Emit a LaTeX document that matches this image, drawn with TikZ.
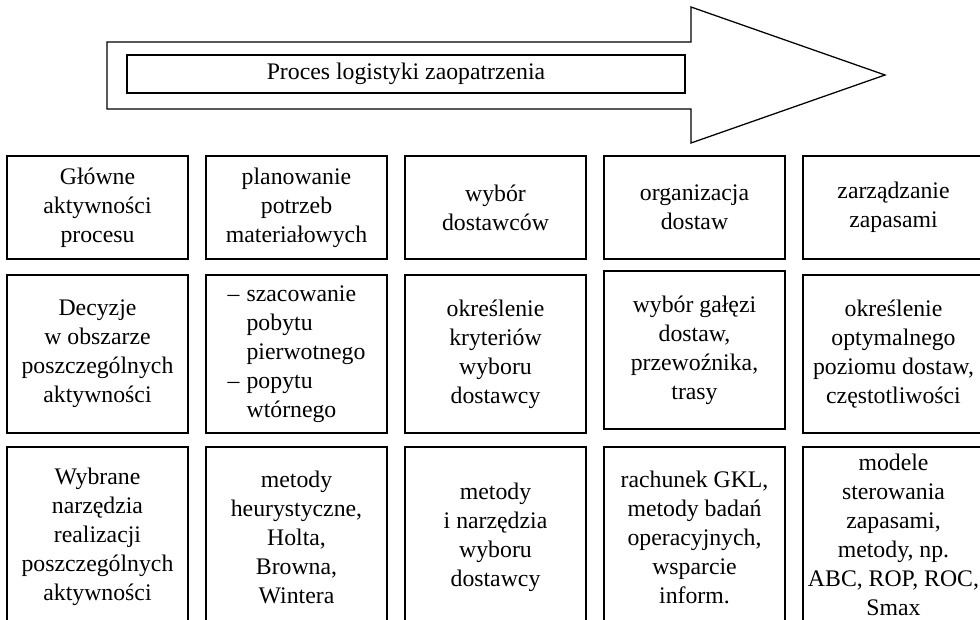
\documentclass[tikz,border=0pt]{standalone}
\usepackage{fontspec}
\setmainfont{Liberation Serif}
\usepackage{tikz}
\usetikzlibrary{positioning}

\begin{document}
\begin{tikzpicture}[x=0.025cm, y=-0.025cm,
  cell/.style={draw, line width=0.9pt, minimum width=4.525cm,
              inner sep=0pt, align=center,
              font=\fontsize{16.9}{20.6}\selectfont},
  headcell/.style={cell, minimum height=2.575cm},
  decicell/.style={cell, minimum height=3.95cm},
  toolcell/.style={cell, minimum height=4.5cm},
  bigarrow/.style={line width=0.9pt}
]
\useasboundingbox (0,0) rectangle (980,619);

% arrow of the process
\draw[bigarrow] (107,42) -- (691,42) -- (691,7) -- (885,75)
  -- (691,143) -- (691,109) -- (107,109) -- cycle;
\node[draw, line width=0.9pt, minimum width=13.95cm, minimum height=0.95cm,
      font=\fontsize{16.9}{20.6}\selectfont] (proces) at (406,74)
  {Proces logistyki zaopatrzenia};

% row 1
\node[headcell] (glowne)  at (97.5,207.5)  {Główne\\aktywności\\procesu};
\node[headcell] (plan)    at (296.5,207.5) {planowanie\\potrzeb\\materiałowych};
\node[headcell] (wybor)   at (495.5,207.5) {wybór\\dostawców};
\node[headcell] (organ)   at (694.5,207.5) {organizacja\\dostaw};
\node[headcell] (zapasy)  at (893.5,207.5) {zarządzanie\\zapasami};

% row 2
\node[decicell] (decyzje)  at (97.5,354)  {Decyzje\\w obszarze\\poszczególnych\\aktywności};
\node[decicell] (planD)    at (296.5,354)
  {\begin{tabular}{@{}l@{\hspace{0.3em}}l@{}}
   --&szacowanie\\&pobytu\\&pierwotnego\\--&popytu\\&wtórnego
   \end{tabular}};
\node[decicell] (wyborD)   at (495.5,354) {określenie\\kryteriów\\wyboru\\dostawcy};
\node[decicell] (organD)   at (694.5,350) {wybór gałęzi\\dostaw,\\przewoźnika,\\trasy};
\node[decicell] (zapasyD)  at (893.5,354) {określenie\\optymalnego\\poziomu dostaw,\\częstotliwości};

% row 3
\node[toolcell] (narzedzia) at (97.5,537)  {Wybrane\\narzędzia\\realizacji\\poszczególnych\\aktywności};
\node[toolcell] (planN)     at (296.5,537) {metody\\heurystyczne,\\Holta,\\Browna,\\Wintera};
\node[toolcell] (wyborN)    at (495.5,537) {metody\\i narzędzia\\wyboru\\dostawcy};
\node[toolcell] (organN)    at (694.5,537) {rachunek GKL,\\metody badań\\operacyjnych,\\wsparcie\\inform.};
\node[toolcell] (zapasyN)   at (893.5,537)
  {\raisebox{0.1cm}{\begin{tabular}{@{}c@{}}
   modele\\sterowania\\zapasami,\\metody, np.\\ABC, ROP, ROC,\\Smax
   \end{tabular}}};
\end{tikzpicture}
\end{document}
